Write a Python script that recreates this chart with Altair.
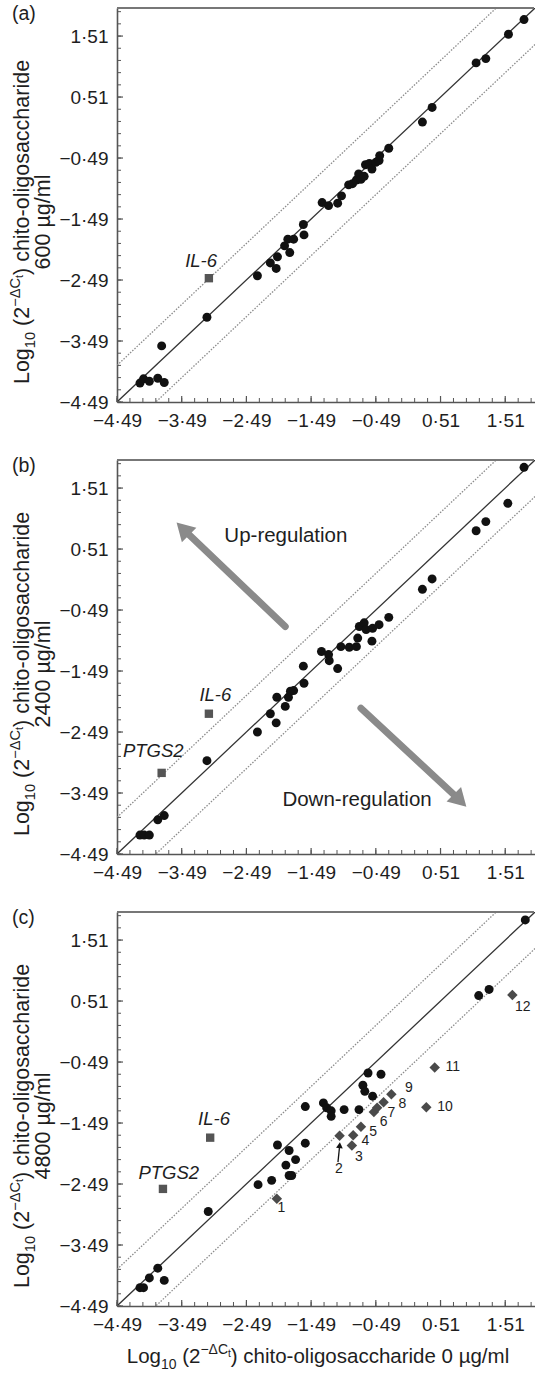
import altair as alt
import pandas as pd

FONT = "Liberation Sans"
TXT = "#1e1e1e"

# ---------------- axis definition ----------------
tick_labels = [-4.49, -3.49, -2.49, -1.49, -0.49, 0.51, 1.51]
minor_ticks = [-4.49, -4.29, -4.09, -3.89, -3.69, -3.49, -3.29, -3.09, -2.89, -2.69,
               -2.49, -2.29, -2.09, -1.89, -1.69, -1.49, -1.29, -1.09, -0.89, -0.69,
               -0.49, -0.29, -0.09, 0.11, 0.31, 0.51, 0.71, 0.91, 1.11, 1.31, 1.51,
               1.71, 1.91]
axis_domain = [-4.49, 1.97]
fold_band = 0.6          # dotted lines: +/- log10(4)
identity_x = [-4.49, 1.97]

# ---------------- panel (a): 600 ug/ml ----------------
a_x = [-4.135, -4.08, -3.99, -3.86, -3.76, -3.80, -3.10, -2.32, -2.12, -2.03, -2.01,
       -1.90, -1.85, -1.82, -1.76, -1.61, -1.60, -1.32, -1.22, -1.08, -1.02, -0.91,
       -0.85, -0.79, -0.755, -0.72, -0.67, -0.65, -0.59, -0.55, -0.49, -0.44, -0.43,
       -0.29, 0.23, 0.38, 1.06, 1.21, 1.56, 1.80]
a_y = [-4.18, -4.11, -4.15, -4.10, -4.17, -3.57, -3.10, -2.42, -2.21, -2.30, -2.11,
       -1.93, -1.82, -2.04, -1.82, -1.58, -1.75, -1.22, -1.27, -1.23, -1.11, -0.93,
       -0.91, -0.85, -0.75, -0.84, -0.79, -0.60, -0.58, -0.67, -0.56, -0.53, -0.45,
       -0.33, 0.10, 0.34, 1.07, 1.14, 1.54, 1.78]
a_gene = ["IL-6"]
a_gene_x = [-3.07]
a_gene_y = [-2.46]
a_glab_x = [-3.19]
a_glab_y = [-2.18]

# ---------------- panel (b): 2400 ug/ml ----------------
b_x = [-4.135, -4.07, -3.99, -3.86, -3.76, -3.10, -2.32, -2.12, -2.03, -2.02, -1.89,
       -1.84, -1.81, -1.76, -1.60, -1.61, -1.33, -1.22, -1.21, -1.08, -1.03, -0.90,
       -0.79, -0.77, -0.745, -0.67, -0.64, -0.55, -0.54, -0.44, -0.29, 0.23, 0.38,
       1.06, 1.21, 1.55, 1.80]
b_y = [-4.18, -4.18, -4.18, -3.93, -3.86, -2.96, -2.49, -2.19, -2.34, -1.92, -2.07,
       -1.92, -1.82, -1.81, -1.69, -1.41, -1.17, -1.22, -1.32, -1.45, -1.09, -1.10,
       -1.09, -0.95, -0.76, -0.70, -0.81, -1.00, -0.79, -0.73, -0.61, -0.15, 0.02,
       0.81, 0.96, 1.26, 1.85]
b_gene = ["IL-6", "PTGS2"]
b_gene_x = [-3.07, -3.80]
b_gene_y = [-2.19, -3.16]
b_glab_x = [-2.97, -3.93]
b_glab_y = [-1.89, -2.80]
up_arrow_x = [-1.89, -3.44]
up_arrow_y = [-0.76, 0.81]
down_arrow_x = [-0.72, 0.78]
down_arrow_y = [-2.10, -3.58]
arrow_text = ["Up-regulation", "Down-regulation"]
arrow_text_x = [-1.88, -0.78]
arrow_text_y = [0.72, -3.60]

# ---------------- panel (c): 4800 ug/ml ----------------
c_x = [-4.135, -4.08, -3.99, -3.86, -3.76, -3.08, -2.31, -2.10, -2.01, -1.88, -1.83,
       -1.83, -1.79, -1.73, -1.58, -1.58, -1.30, -1.25, -1.18, -1.18, -0.98, -0.75,
       -0.69, -0.66, -0.61, -0.54, -0.41, 1.10, 1.26, 1.82]
c_y = [-4.19, -4.19, -4.03, -3.87, -4.07, -2.94, -2.50, -2.43, -1.85, -2.18, -1.94,
       -2.35, -2.35, -2.09, -1.82, -1.22, -1.16, -1.24, -1.29, -1.38, -1.27, -1.27,
       -0.87, -0.97, -0.67, -1.05, -0.69, 0.60, 0.70, 1.84]
c_gene = ["IL-6", "PTGS2"]
c_gene_x = [-3.05, -3.78]
c_gene_y = [-1.73, -2.57]
c_glab_x = [-2.99, -3.69]
c_glab_y = [-1.42, -2.31]
c_dia_id = ["1", "2", "3", "4", "5", "6", "7", "8", "9", "10", "11", "12"]
c_dia_x = [-2.02, -1.05, -0.86, -0.84, -0.72, -0.52, -0.47, -0.37, -0.25, 0.29, 0.42, 1.62]
c_dia_y = [-2.73, -1.70, -1.86, -1.69, -1.55, -1.31, -1.24, -1.15, -1.02, -1.23, -0.58, 0.61]
c_dlab_x = [-1.95, -1.06, -0.75, -0.65, -0.53, -0.37, -0.25, -0.08, 0.02, 0.58, 0.70, 1.78]
c_dlab_y = [-2.89, -2.25, -2.04, -1.79, -1.63, -1.48, -1.32, -1.17, -0.91, -1.23, -0.57, 0.41]
c_pointer_x = [-1.075, -1.05]
c_pointer_y = [-2.13, -1.87]

# ---------------- layout / style ----------------
W, H = 418, 394
XS = alt.Scale(domain=axis_domain, nice=False, zero=False)
YS = alt.Scale(domain=axis_domain, nice=False, zero=False)
LABEL_EXPR = "replace(format(datum.value, '.2f'), '.', '·')"
XAX = alt.Axis(values=tick_labels, labelExpr=LABEL_EXPR, ticks=False, grid=False,
               title=None, labelFlush=False, labelOverlap=False, labelPadding=9,
               labelFont=FONT, labelFontSize=19, labelColor=TXT,
               domainColor="#555", domainWidth=1.6)
YAX = alt.Axis(values=tick_labels, labelExpr=LABEL_EXPR, ticks=False, grid=False,
               title=None, labelFlush=False, labelOverlap=False, labelPadding=9,
               labelFont=FONT, labelFontSize=19, labelColor=TXT,
               domainColor="#555", domainWidth=1.6)


def X():
    return alt.X("x:Q", scale=XS, axis=XAX)


def Y():
    return alt.Y("y:Q", scale=YS, axis=YAX)


ONE = pd.DataFrame({"d": [0]})

AW = {' ': 278, '(': 333, ')': 333, '-': 333, '/': 278, 'L': 556, 'C': 722,
      'a': 556, 'c': 500, 'd': 556, 'e': 556, 'g': 556, 'h': 556, 'i': 222,
      'l': 222, 'm': 833, 'o': 556, 'r': 333, 's': 500, 't': 278, 'µ': 576,
      '−': 584, 'Δ': 668}


def tw(s, fs):
    return sum(AW.get(ch, 556) for ch in s) / 1000.0 * fs


def rich_text(pieces, fs, center, base, vertical):
    widths = [tw(t, fs * sc) for t, sc, sh in pieces]
    total = sum(widths)
    layers = []
    a = 0.0
    for (t, sc, sh), w in zip(pieces, widths):
        lead = tw(t[: len(t) - len(t.lstrip())], fs * sc)
        pos = a + lead
        if vertical:
            x, y, ang = base + sh * fs, center + total / 2 - pos, 270
        else:
            x, y, ang = center - total / 2 + pos, base + sh * fs, 0
        layers.append(
            alt.Chart(ONE).mark_text(align="left", baseline="alphabetic", angle=ang,
                                     font=FONT, fontSize=fs * sc, color=TXT,
                                     x=x, y=y).encode(text=alt.value(t.strip())))
        a += w
    return layers


YTFS = 21.5
XTFS = 20.5
LOG_PIECES = [("Log", 1, 0), ("10", 0.68, 0.28), (" (2", 1, 0), ("−ΔC", 0.68, -0.42),
              ("t", 0.5, -0.27), (") chito-oligosaccharide", 1, 0)]


def panel(letter, cx, cy, gene, gx, gy, glx, gly, dose, extra=None, xtitle=False):
    pts = pd.DataFrame({"x": cx, "y": cy})
    ln = pd.DataFrame({"x": identity_x, "y": identity_x})
    up = pd.DataFrame({"x": identity_x, "y": [v + fold_band for v in identity_x]})
    lo = pd.DataFrame({"x": identity_x, "y": [v - fold_band for v in identity_x]})
    layers = [
        alt.Chart(up).mark_line(clip=True, color="#8c8c8c", strokeWidth=1.3,
                                strokeDash=[1.5, 1.5]).encode(x=X(), y=Y()),
        alt.Chart(lo).mark_line(clip=True, color="#8c8c8c", strokeWidth=1.3,
                                strokeDash=[1.5, 1.5]).encode(x=X(), y=Y()),
        alt.Chart(ln).mark_line(clip=True, color="#333", strokeWidth=1.3).encode(x=X(), y=Y()),
        # inward ticks
        alt.Chart(pd.DataFrame({"x": minor_ticks})).mark_rule(color="#555", strokeWidth=1)
        .encode(x=X(), y=alt.value(H), y2=alt.value(H - 4)),
        alt.Chart(pd.DataFrame({"x": tick_labels})).mark_rule(color="#555", strokeWidth=1.2)
        .encode(x=X(), y=alt.value(H), y2=alt.value(H - 6)),
        alt.Chart(pd.DataFrame({"y": minor_ticks})).mark_rule(color="#555", strokeWidth=1)
        .encode(y=Y(), x=alt.value(0), x2=alt.value(4)),
        alt.Chart(pd.DataFrame({"y": tick_labels})).mark_rule(color="#555", strokeWidth=1.2)
        .encode(y=Y(), x=alt.value(0), x2=alt.value(6)),
        # top frame line
        alt.Chart(ONE).mark_rule(color="#777", strokeWidth=2)
        .encode(x=alt.value(0), x2=alt.value(W - 1), y=alt.value(0)),
        # points
        alt.Chart(pts).mark_point(filled=True, shape="circle", size=80, color="#111",
                                  opacity=1).encode(x=X(), y=Y()),
        alt.Chart(pd.DataFrame({"x": gx, "y": gy})).mark_point(
            filled=True, shape="square", size=70, color="#555", opacity=1).encode(x=X(), y=Y()),
        alt.Chart(pd.DataFrame({"x": glx, "y": gly, "t": gene})).mark_text(
            font=FONT, fontSize=18.5, fontStyle="italic", color=TXT).encode(
            x=X(), y=Y(), text="t:N"),
        # panel letter
        alt.Chart(ONE).mark_text(align="left", baseline="alphabetic", font=FONT,
                                 fontSize=19.5, color=TXT, x=-105, y=12)
        .encode(text=alt.value(letter)),
    ]
    if extra:
        layers += extra
    # y title (two lines)
    layers += rich_text(LOG_PIECES, YTFS, 214, -88, True)
    layers += rich_text([(dose, 1, 0)], YTFS, 214, -67, True)
    if xtitle:
        layers += rich_text(LOG_PIECES + [(" 0 µg/ml", 1, 0)], XTFS, 201, 451, False)
    if letter == "(a)":
        layers.append(alt.Chart(ONE).mark_rule(strokeOpacity=0)
                      .encode(x=alt.value(-116.5), x2=alt.value(-110), y=alt.value(-8)))
    return alt.layer(*layers).properties(width=W, height=H)


# panel (b) arrows
ARROW = "#8a8a8a"
b_extra = [
    alt.Chart(pd.DataFrame({"x": up_arrow_x, "y": up_arrow_y})).mark_line(
        color=ARROW, strokeWidth=7, strokeCap="round").encode(x=X(), y=Y()),
    alt.Chart(pd.DataFrame({"x": down_arrow_x, "y": down_arrow_y})).mark_line(
        color=ARROW, strokeWidth=7, strokeCap="round").encode(x=X(), y=Y()),
    alt.Chart(pd.DataFrame({"x": up_arrow_x[-1:], "y": up_arrow_y[-1:]})).mark_point(
        shape="triangle", filled=True, size=420, angle=315, color=ARROW, opacity=1)
    .encode(x=X(), y=Y()),
    alt.Chart(pd.DataFrame({"x": down_arrow_x[-1:], "y": down_arrow_y[-1:]})).mark_point(
        shape="triangle", filled=True, size=420, angle=135, color=ARROW, opacity=1)
    .encode(x=X(), y=Y()),
    alt.Chart(pd.DataFrame({"x": arrow_text_x, "y": arrow_text_y, "t": arrow_text}))
    .mark_text(font=FONT, fontSize=20.5, color=TXT).encode(x=X(), y=Y(), text="t:N"),
]

# panel (c) diamonds
c_extra = [
    alt.Chart(pd.DataFrame({"x": c_dia_x, "y": c_dia_y})).mark_point(
        shape="diamond", filled=True, size=110, color="#4a4a4a", opacity=1).encode(x=X(), y=Y()),
    alt.Chart(pd.DataFrame({"x": c_dlab_x, "y": c_dlab_y, "t": c_dia_id})).mark_text(
        font=FONT, fontSize=14, color=TXT).encode(x=X(), y=Y(), text="t:N"),
    alt.Chart(pd.DataFrame({"x": c_pointer_x, "y": c_pointer_y})).mark_line(
        color="#111", strokeWidth=1.3).encode(x=X(), y=Y()),
    alt.Chart(pd.DataFrame({"x": c_pointer_x[-1:], "y": c_pointer_y[-1:]})).mark_point(
        shape="triangle", filled=True, size=45, angle=5, color="#111", opacity=1)
    .encode(x=X(), y=Y()),
]

pa = panel("(a)", a_x, a_y, a_gene, a_gene_x, a_gene_y, a_glab_x, a_glab_y, "600 µg/ml")
pb = panel("(b)", b_x, b_y, b_gene, b_gene_x, b_gene_y, b_glab_x, b_glab_y, "2400 µg/ml",
           extra=b_extra)
pc = panel("(c)", c_x, c_y, c_gene, c_gene_x, c_gene_y, c_glab_x, c_glab_y, "4800 µg/ml",
           extra=c_extra, xtitle=True)

chart = alt.vconcat(pa, pb, pc, spacing=58, bounds="flush").properties(
    padding={"left": 0, "top": 0, "right": 0, "bottom": 0}
).configure_view(strokeWidth=0)

chart.save("out.html", embed_options={"renderer": "svg", "actions": False})
